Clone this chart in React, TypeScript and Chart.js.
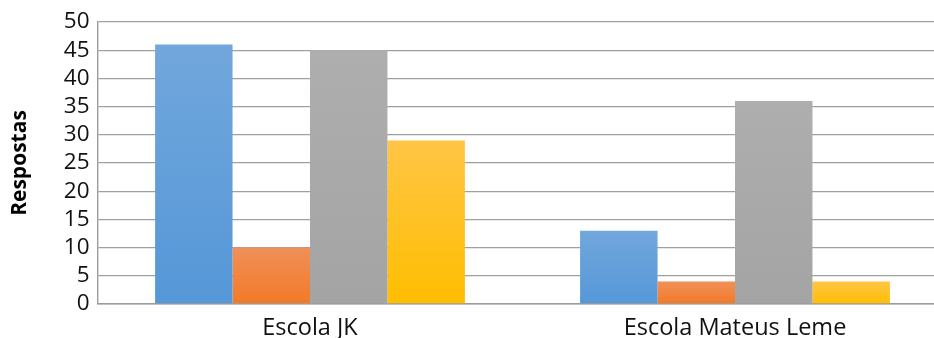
import React, { useEffect, useRef } from "react";
import { Chart, registerables } from "chart.js";

Chart.register(...registerables);

const categories = ["Escola JK", "Escola Mateus Leme"];
const serieAzul = [46, 13];
const serieLaranja = [10, 4];
const serieCinza = [45, 36];
const serieAmarela = [29, 4];
const yTicks = [0, 5, 10, 15, 20, 25, 30, 35, 40, 45, 50];

// [top colour, bottom colour] of each bar's vertical gradient
const palettes: [string, string][] = [
  ["#71A7DC", "#5597D8"],
  ["#F09058", "#F27A28"],
  ["#AEAEAE", "#A4A4A4"],
  ["#FFC546", "#FFBE00"],
];

function gradientFill(pal: [string, string]) {
  return (c: any) => {
    const chart = c.chart;
    const y = chart.scales?.y;
    if (!chart.chartArea || !y || c.type !== "data") return pal[1];
    const top = y.getPixelForValue(c.raw);
    const bot = y.getPixelForValue(0);
    if (!isFinite(top) || !isFinite(bot) || top === bot) return pal[1];
    const g = chart.ctx.createLinearGradient(0, top, 0, bot);
    g.addColorStop(0, pal[0]);
    g.addColorStop(1, pal[1]);
    return g;
  };
}

export default function App() {
  const ref = useRef<HTMLCanvasElement>(null);

  useEffect(() => {
    if (!ref.current) return;
    const series = [serieAzul, serieLaranja, serieCinza, serieAmarela];
    const chart = new Chart(ref.current, {
      type: "bar",
      data: {
        labels: categories,
        datasets: series.map((d, i) => ({
          label: "s" + i,
          data: d,
          backgroundColor: gradientFill(palettes[i]),
          borderWidth: 0,
          barPercentage: 1,
          categoryPercentage: 0.729,
        })),
      },
      options: {
        responsive: false,
        maintainAspectRatio: false,
        animation: false,
        layout: { padding: { left: 0, right: 2.5, top: 22, bottom: 0 } },
        plugins: { legend: { display: false }, tooltip: { enabled: false } },
        scales: {
          x: {
            grid: { display: false, drawTicks: false },
            border: { color: "#9C9C9C", width: 1.4 },
            ticks: {
              color: "#111",
              padding: 10,
              font: { family: "'Open Sans'", size: 23.5 },
              maxRotation: 0,
              autoSkip: false,
            },
            afterFit: (s: any) => {
              s.height = 34;
            },
          },
          y: {
            min: 0,
            max: 50,
            afterBuildTicks: (s: any) => {
              s.ticks = yTicks.map((v) => ({ value: v }));
            },
            grid: { color: "#A0A0A0", lineWidth: 1.3, drawTicks: false },
            border: { color: "#9C9C9C", width: 1.4 },
            ticks: {
              color: "#111",
              padding: 8,
              autoSkip: false,
              font: { family: "'Open Sans'", size: 22.5 },
            },
            title: {
              display: true,
              text: "Respostas",
              color: "#000",
              padding: { top: 7, bottom: 0 },
              font: { family: "'Open Sans'", size: 21, weight: "bold" },
            },
            afterFit: (s: any) => {
              s.width = 97.5;
            },
          },
        },
      },
    });
    return () => chart.destroy();
  }, []);

  return (
    <div
      style={{
        position: "absolute",
        left: 0,
        top: 0,
        width: 934,
        height: 338,
        overflow: "hidden",
        background: "#fff",
      }}
    >
      <canvas ref={ref} width={950} height={338} style={{ width: 950, height: 338, display: "block" }} />
    </div>
  );
}
